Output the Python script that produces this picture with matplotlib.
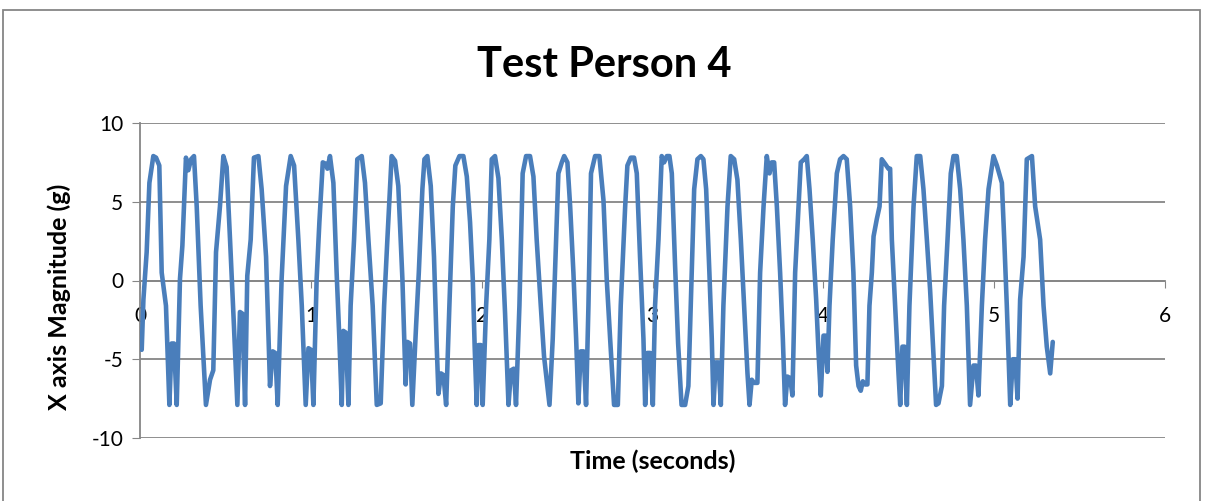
import matplotlib as mpl
mpl.use("Agg")
import matplotlib.pyplot as plt
from matplotlib.patches import Rectangle

# time (s) and x-axis acceleration (g)
time_s = [
    0.010, 0.020, 0.039, 0.055, 0.078, 0.094, 0.113, 0.127, 0.152, 0.172,
    0.185, 0.199, 0.215, 0.234, 0.248, 0.269, 0.283, 0.299, 0.316, 0.332,
    0.355, 0.386, 0.410, 0.429, 0.445, 0.468, 0.488, 0.507, 0.527, 0.550,
    0.570, 0.585, 0.599, 0.615, 0.628, 0.648, 0.667, 0.693, 0.712, 0.738,
    0.761, 0.777, 0.792, 0.806, 0.829, 0.855, 0.882, 0.902, 0.927, 0.947,
    0.970, 0.986, 1.001, 1.015, 1.034, 1.050, 1.070, 1.089, 1.097, 1.112,
    1.132, 1.151, 1.167, 1.181, 1.190, 1.204, 1.220, 1.233, 1.253, 1.272,
    1.298, 1.317, 1.337, 1.362, 1.386, 1.409, 1.429, 1.448, 1.473, 1.493,
    1.512, 1.536, 1.555, 1.565, 1.581, 1.594, 1.616, 1.632, 1.653, 1.665,
    1.682, 1.702, 1.721, 1.737, 1.747, 1.762, 1.776, 1.792, 1.811, 1.831,
    1.846, 1.870, 1.893, 1.913, 1.932, 1.948, 1.959, 1.971, 1.981, 1.995,
    2.006, 2.026, 2.045, 2.059, 2.078, 2.098, 2.118, 2.137, 2.157, 2.172,
    2.188, 2.201, 2.221, 2.240, 2.260, 2.283, 2.303, 2.322, 2.346, 2.365,
    2.397, 2.416, 2.436, 2.449, 2.469, 2.483, 2.502, 2.518, 2.537, 2.553,
    2.566, 2.580, 2.596, 2.611, 2.625, 2.640, 2.664, 2.689, 2.713, 2.732,
    2.752, 2.775, 2.797, 2.814, 2.840, 2.853, 2.873, 2.892, 2.908, 2.927,
    2.947, 2.957, 2.970, 2.986, 3.002, 3.015, 3.035, 3.054, 3.068, 3.084,
    3.099, 3.113, 3.132, 3.150, 3.170, 3.191, 3.210, 3.224, 3.244, 3.263,
    3.283, 3.298, 3.314, 3.333, 3.347, 3.357, 3.370, 3.386, 3.400, 3.415,
    3.439, 3.458, 3.478, 3.497, 3.517, 3.536, 3.556, 3.568, 3.581, 3.595,
    3.614, 3.630, 3.650, 3.669, 3.685, 3.698, 3.712, 3.728, 3.747, 3.763,
    3.776, 3.790, 3.806, 3.819, 3.835, 3.850, 3.868, 3.888, 3.903, 3.919,
    3.938, 3.958, 3.972, 3.985, 4.001, 4.011, 4.024, 4.036, 4.055, 4.079,
    4.098, 4.118, 4.137, 4.157, 4.176, 4.192, 4.206, 4.219, 4.231, 4.245,
    4.258, 4.270, 4.284, 4.294, 4.313, 4.329, 4.342, 4.362, 4.381, 4.391,
    4.401, 4.420, 4.440, 4.450, 4.463, 4.475, 4.489, 4.504, 4.528, 4.547,
    4.567, 4.586, 4.606, 4.625, 4.645, 4.660, 4.674, 4.694, 4.707, 4.727,
    4.746, 4.762, 4.781, 4.801, 4.820, 4.840, 4.859, 4.879, 4.893, 4.908,
    4.928, 4.947, 4.967, 4.996, 5.016, 5.045, 5.059, 5.074, 5.094, 5.109,
    5.123, 5.137, 5.152, 5.172, 5.191, 5.221, 5.240, 5.269, 5.289, 5.308,
    5.328, 5.343,
]
x_accel_g = [
    -4.4, -1.2, 1.8, 6.2, 7.9, 7.8, 7.3, 0.5, -1.6, -7.9,
    -4.0, -4.0, -7.9, 0.1, 2.2, 7.8, 7.0, 7.7, 7.9, 4.7,
    -1.6, -7.9, -6.3, -5.7, 1.8, 4.7, 7.9, 7.2, 2.6, -2.9,
    -7.9, -2.0, -2.1, -7.9, 0.3, 2.6, 7.8, 7.9, 5.8, 1.5,
    -6.7, -4.5, -4.6, -7.9, 0.1, 6.0, 7.9, 7.3, 2.6, -1.6,
    -7.9, -4.3, -4.4, -7.9, 0.1, 3.7, 7.5, 7.4, 7.1, 7.9,
    6.2, 0.5, -3.7, -7.9, -3.2, -3.3, -7.9, -1.6, 2.6, 7.7,
    7.9, 6.2, 2.6, -1.6, -7.9, -7.8, -1.6, 2.6, 7.9, 7.6,
    6.0, 0.1, -6.6, -3.9, -4.0, -7.9, -2.9, 0.5, 5.8, 7.7,
    7.9, 6.0, 1.5, -4.2, -7.2, -5.9, -6.0, -7.9, -1.6, 4.7,
    7.3, 7.9, 7.9, 6.6, 3.7, 0.1, -4.2, -7.9, -4.1, -4.1,
    -7.9, -1.6, 2.6, 7.7, 7.9, 6.5, 2.6, -2.1, -7.9, -5.7,
    -5.6, -7.9, -1.6, 6.8, 7.9, 7.9, 6.6, 2.6, -1.6, -4.8,
    -7.9, -3.7, 2.6, 6.8, 7.5, 7.9, 7.5, 4.7, 0.5, -3.7,
    -7.8, -4.5, -4.5, -7.9, -1.6, 6.8, 7.9, 7.9, 5.1, 0.1,
    -3.7, -7.9, -7.9, -1.6, 4.7, 7.3, 7.8, 7.8, 6.8, 1.5,
    -3.7, -7.9, -4.6, -4.6, -7.9, -1.6, 2.6, 7.9, 7.5, 7.9,
    7.9, 6.8, 1.0, -4.0, -7.9, -7.9, -6.7, -1.6, 5.8, 7.7,
    7.9, 7.7, 5.8, 0.5, -3.7, -7.9, -5.2, -5.2, -7.9, -1.6,
    4.7, 7.9, 7.7, 6.4, 2.6, -1.6, -5.9, -7.9, -6.3, -6.5,
    -6.5, 0.5, 4.7, 7.9, 6.8, 7.5, 7.5, 4.7, 0.5, -3.7,
    -7.9, -6.1, -6.2, -7.3, 0.5, 3.7, 7.5, 7.7, 7.9, 5.8,
    2.6, -1.2, -4.6, -7.3, -3.5, -3.5, -5.8, -1.6, 2.6, 6.8,
    7.7, 7.9, 7.7, 4.7, 0.5, -5.4, -6.7, -7.0, -6.4, -6.6,
    -6.6, -1.6, 0.5, 2.8, 3.9, 4.7, 7.7, 7.4, 7.1, 7.1,
    2.6, -1.6, -5.9, -7.9, -4.2, -4.2, -7.9, -1.6, 4.7, 7.9,
    7.9, 5.8, 2.6, -0.6, -4.8, -7.9, -7.8, -6.7, -1.6, 2.6,
    6.8, 7.9, 7.9, 5.8, 2.6, -1.6, -7.9, -5.4, -5.4, -7.3,
    -1.6, 2.6, 5.8, 7.9, 7.3, 6.2, 2.6, -1.6, -7.9, -5.0,
    -5.0, -7.5, -1.2, 1.5, 7.7, 7.9, 4.7, 2.6, -1.6, -4.2,
    -5.9, -3.9,
]

plt.rcParams["font.family"] = ["Lato", "DejaVu Sans"]
plt.rcParams["axes.unicode_minus"] = False
grey = "#868686"

fig = plt.figure(figsize=(12.05, 5.01), dpi=100)
ax = fig.add_axes([140 / 1205, 1 - 438 / 501, 1025 / 1205, 315 / 501])

ax.plot(time_s, x_accel_g, color="#4A7EBB", lw=3.3,
        solid_joinstyle="round", solid_capstyle="round", zorder=3)

ax.set_xlim(0, 6)
ax.set_ylim(-10, 10)
ax.set_yticks([-10, -5, 0, 5, 10])
ax.set_xticks(range(7))
ax.yaxis.grid(True, color=grey, lw=1.3)
ax.set_axisbelow(True)

for s in ["top", "right"]:
    ax.spines[s].set_visible(False)
ax.spines["left"].set_color(grey)
ax.spines["left"].set_linewidth(1.3)
ax.spines["bottom"].set_position(("data", 0))
ax.spines["bottom"].set_color(grey)
ax.spines["bottom"].set_linewidth(1.3)
ax.tick_params(axis="x", direction="out", length=5, color=grey,
               labelsize=15, pad=13)
ax.tick_params(axis="y", direction="out", length=6, color=grey,
               labelsize=15, pad=6)

fig.text(604 / 1205, 1 - 77 / 501, "Test Person 4", fontsize=30,
         fontweight="bold", ha="center", va="baseline")
fig.text(59 / 1205, 1 - 297 / 501, "X axis Magnitude (g)", fontsize=18,
         fontweight="bold", rotation=90, ha="center", va="center")
fig.text(653 / 1205, 1 - 461 / 501, "Time (seconds)", fontsize=18,
         fontweight="bold", ha="center", va="center")

fig.patches.append(Rectangle((3 / 1205, -0.05), 1197 / 1205, 1.05 - 10 / 501,
                             transform=fig.transFigure, fill=False,
                             edgecolor=grey, lw=1.3))

fig.savefig("out.png", dpi=100)
